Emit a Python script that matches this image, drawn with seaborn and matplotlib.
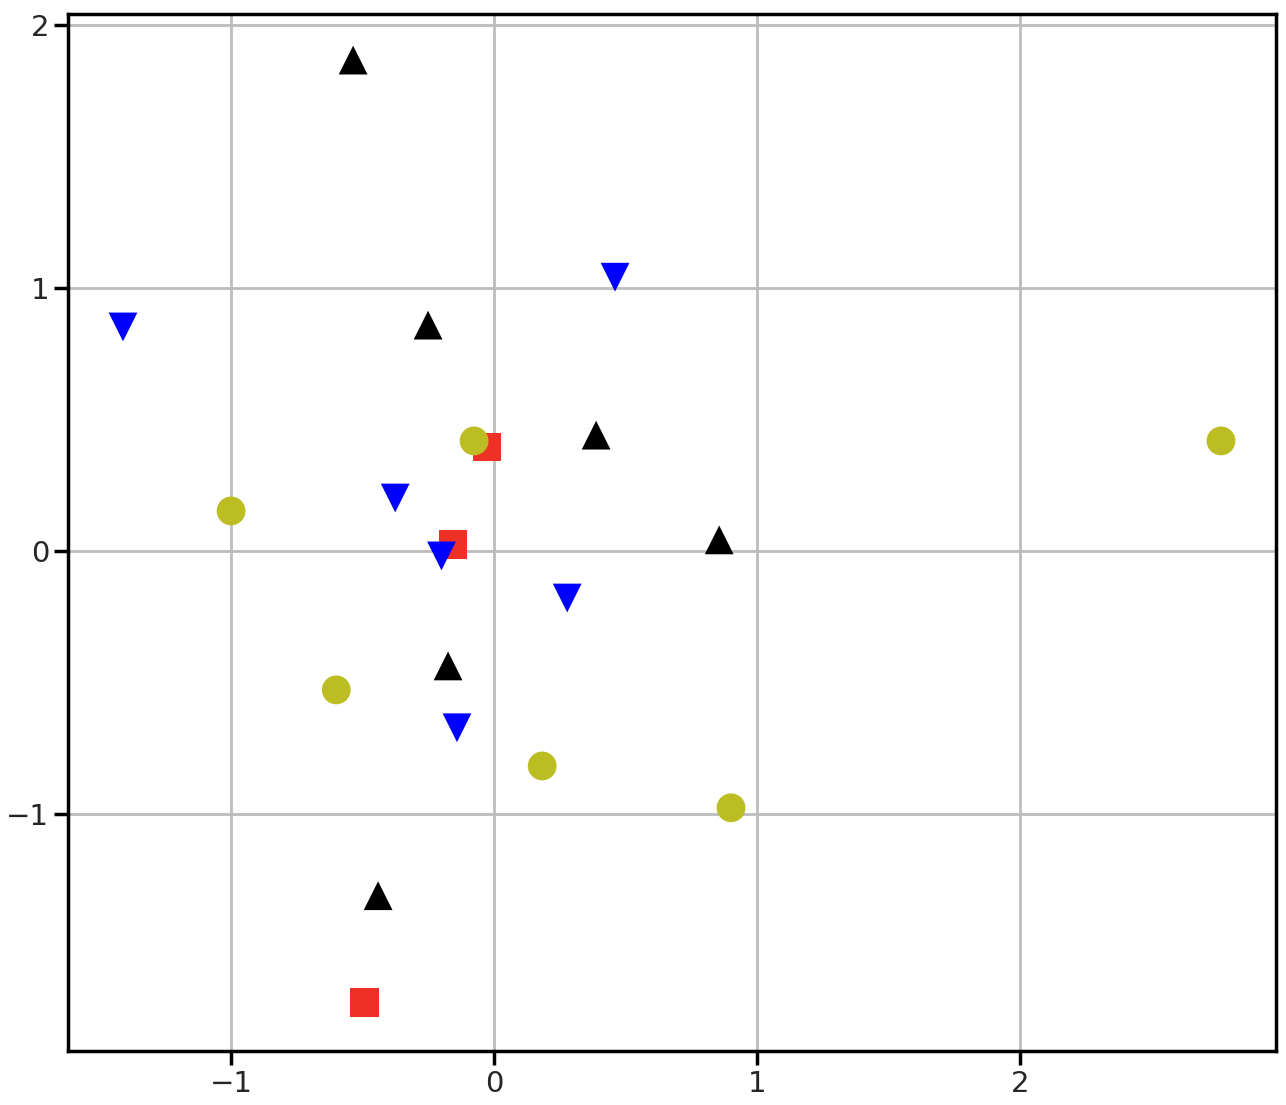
import numpy as np
import pandas as pd
import seaborn as sns
import matplotlib.pyplot as plt

# point groups
SQ_X = [-0.027, -0.156, -0.494]
SQ_Y = [0.395, 0.023, -1.717]
UP_X = [-0.536, -0.251, 0.388, 0.856, -0.175, -0.441]
UP_Y = [1.865, 0.858, 0.440, 0.042, -0.437, -1.310]
DN_X = [-1.411, 0.460, -0.376, -0.200, 0.278, -0.141]
DN_Y = [0.851, 1.040, 0.201, -0.019, -0.179, -0.672]
CI_X = [-0.076, -1.000, -0.600, 0.183, 0.901, 2.764]
CI_Y = [0.418, 0.152, -0.528, -0.817, -0.976, 0.418]

GROUPS = ["sq", "up", "dn", "ci"]
COLORS = {"sq": "#ee3124", "up": "black", "dn": "blue", "ci": "#bcbd22"}
MARKERS = {"sq": "s", "up": "^", "dn": "v", "ci": "o"}


def build_frame():
    xs = [SQ_X, UP_X, DN_X, CI_X]
    ys = [SQ_Y, UP_Y, DN_Y, CI_Y]
    rows = []
    for g, x, y in zip(GROUPS, xs, ys):
        for a, b in zip(x, y):
            rows.append((a, b, g))
    return pd.DataFrame(rows, columns=["x", "y", "group"])


if __name__ == "__main__":
    sns.set_style("ticks")
    df = build_frame()

    fig = plt.figure(figsize=(12.86, 11.05), dpi=100)
    ax = fig.add_axes([0.0529, 0.0489, 0.9393, 0.9384])

    sns.scatterplot(data=df, x="x", y="y", hue="group", style="group",
                    palette=COLORS, markers=MARKERS, s=430, linewidth=0,
                    legend=False, ax=ax)

    ax.set_xlim(-1.62, 2.973)
    ax.set_ylim(-1.90, 2.04)
    ax.set_xticks([-1, 0, 1, 2])
    ax.set_yticks([-1, 0, 1, 2])
    ax.set_xlabel("")
    ax.set_ylabel("")
    ax.grid(True, color="#bcbcbc", lw=2)
    ax.set_axisbelow(True)
    ax.tick_params(labelsize=21, width=2.5, length=10, color="black")
    for sp in ax.spines.values():
        sp.set_color("black")
        sp.set_linewidth(2.5)

    fig.savefig("out.png", dpi=100)
    plt.close()
